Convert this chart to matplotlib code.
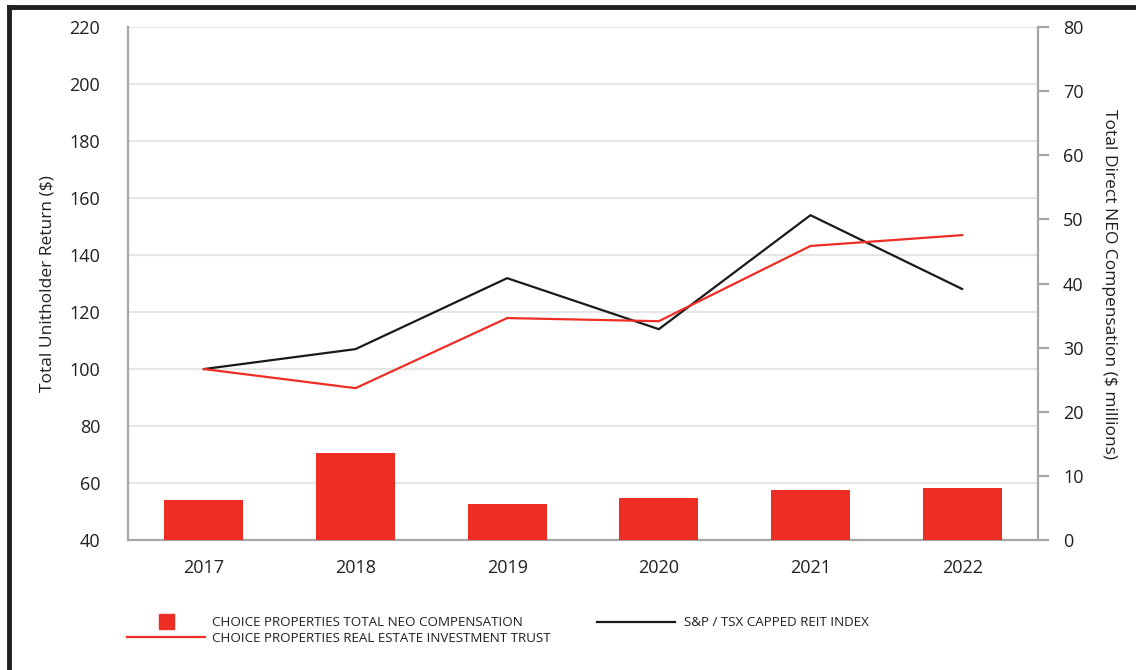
import matplotlib.pyplot as plt
from matplotlib.lines import Line2D
from matplotlib.patches import Rectangle

plt.rcParams['font.family'] = ['Open Sans', 'DejaVu Sans']

# Данные
years = ['2017', '2018', '2019', '2020', '2021', '2022']
neo_comp = [6.2, 13.6, 5.6, 6.5, 7.8, 8.1]          # $ millions, right axis
reit_index = [100, 107, 131.9, 114, 154, 128.1]     # S&P / TSX Capped REIT Index
choice_reit = [100, 93.3, 117.9, 116.8, 143.2, 147]  # Choice Properties REIT

red = '#ee2e24'
grey = '#a6a6a6'
x = range(len(years))

fig = plt.figure(figsize=(11.36, 6.70), dpi=100)
ax = fig.add_axes([0.1127, 0.194, 0.801, 0.7655])

# Линии (левая ось)
ax.plot(x, reit_index, color='#1a1a1a', lw=1.6)
ax.plot(x, choice_reit, color=red, lw=1.6)
ax.set_ylim(40, 220)
ax.set_yticks(range(40, 221, 20))
ax.set_xlim(-0.5, len(years) - 0.5)
ax.set_xticks(list(x))
ax.set_xticklabels(years)
ax.grid(axis='y', color='#e6e6e6', lw=1.6)
ax.set_axisbelow(True)
ax.tick_params(axis='y', length=0, pad=20, labelsize=13, colors='#231f20')
ax.tick_params(axis='x', length=0, pad=14, labelsize=13, colors='#231f20')
ax.set_ylabel('Total Unitholder Return ($)', fontsize=12.5, color='#231f20', labelpad=10)
for s in ['top', 'right']:
    ax.spines[s].set_visible(False)
for s in ['left', 'bottom']:
    ax.spines[s].set_color(grey)
    ax.spines[s].set_linewidth(1.6)

# Столбцы (правая ось)
ax2 = ax.twinx()
ax2.bar(x, neo_comp, width=0.52, color=red)
ax2.set_ylim(0, 80)
ax2.set_yticks(range(0, 81, 10))
ax2.tick_params(axis='y', length=8, width=1.6, color=grey, pad=10,
                labelsize=13, labelcolor='#231f20')
ax2.set_ylabel('Total Direct NEO Compensation ($ millions)', rotation=270,
               fontsize=12.5, color='#231f20', labelpad=24)
for s in ['top', 'left', 'bottom']:
    ax2.spines[s].set_visible(False)
ax2.spines['right'].set_color(grey)
ax2.spines['right'].set_linewidth(1.6)

# Легенда
W, H = 1136, 670
fig.add_artist(Rectangle((159 / W, 1 - 629 / H), 15 / W, 15 / H,
                         transform=fig.transFigure, color=red))
fig.add_artist(Line2D([127 / W, 205 / W], [1 - 637 / H] * 2,
                      transform=fig.transFigure, color=red, lw=1.6))
fig.add_artist(Line2D([597 / W, 675 / W], [1 - 622 / H] * 2,
                      transform=fig.transFigure, color='#1a1a1a', lw=1.6))
leg_kw = dict(fontsize=9.6, color='#231f20', va='center', ha='left')
fig.text(212 / W, 1 - 622 / H, 'CHOICE PROPERTIES TOTAL NEO COMPENSATION', **leg_kw)
fig.text(212 / W, 1 - 639 / H, 'CHOICE PROPERTIES REAL ESTATE INVESTMENT TRUST', **leg_kw)
fig.text(684 / W, 1 - 622 / H, 'S&P / TSX CAPPED REIT INDEX', **leg_kw)

# Рамка
fig.add_artist(Line2D([9 / W, 9 / W], [0, 1 - 7 / H], transform=fig.transFigure,
                      color='#231f20', lw=3.5))
fig.add_artist(Line2D([9 / W, 1], [1 - 7 / H] * 2, transform=fig.transFigure,
                      color='#231f20', lw=3.5))

fig.savefig('out.png', dpi=100)
